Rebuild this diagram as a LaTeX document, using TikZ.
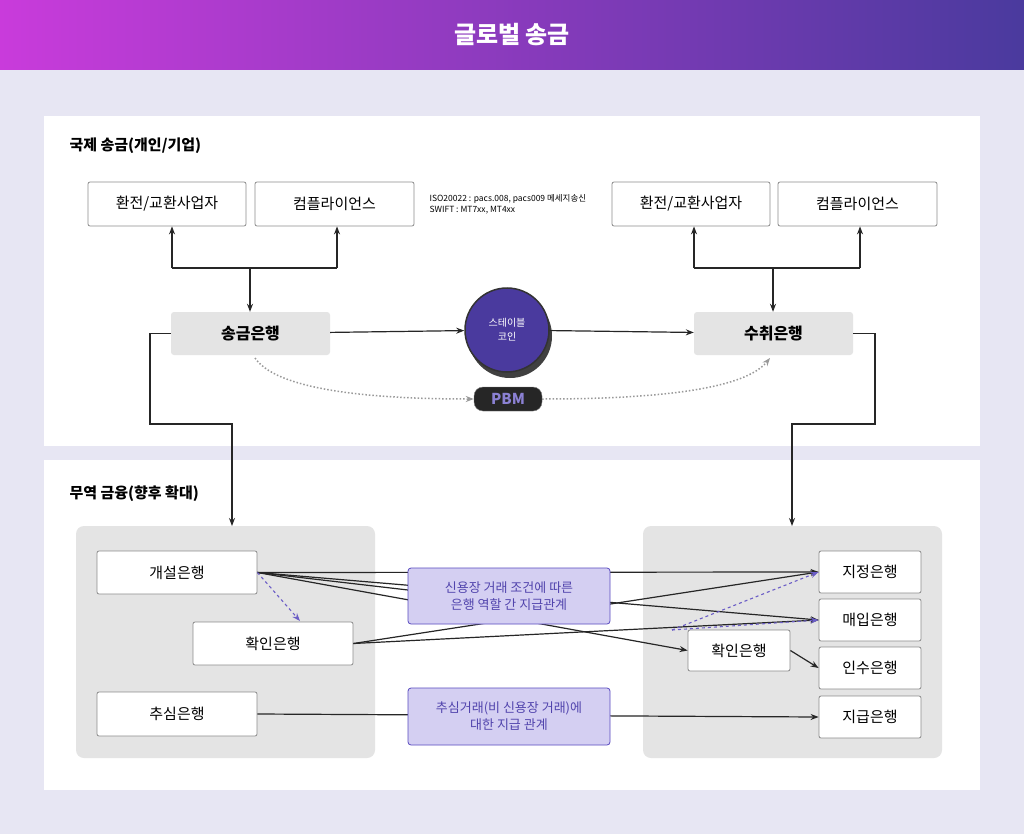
\documentclass[tikz,border=0pt]{standalone}
\usepackage{fontspec}
\setmainfont{Noto Sans CJK KR}
\usetikzlibrary{arrows.meta}
\definecolor{bg}{HTML}{E7E6F3}
\definecolor{gbox}{HTML}{E4E4E4}
\definecolor{lav}{HTML}{D4CFF2}
\definecolor{lavb}{HTML}{5A4BC0}
\definecolor{coin}{HTML}{4A3A9E}
\definecolor{hl}{HTML}{C93BDB}
\definecolor{hr}{HTML}{4A3A9E}
\begin{document}
\begin{tikzpicture}[x=1pt,y=-1pt,
 wbox/.style={draw=black!45,fill=white,rounded corners=2pt,line width=0.8pt,font=\fontsize{15}{18}\selectfont},
 gnode/.style={fill=gbox,rounded corners=3pt,font=\fontsize{16}{19}\selectfont\bfseries},
 lbox/.style={draw=lavb,fill=lav,rounded corners=3pt,line width=0.8pt,align=center,text=lavb!90!black,font=\fontsize{13}{17}\selectfont},
 ar/.style={-{Stealth[length=8pt,width=6pt]},black!85,line width=1.2pt},
 ln/.style={black!85,line width=1.2pt},
 da/.style={-{Stealth[length=8pt,width=6pt]},lavb!90,dashed,line width=1.1pt}]
\useasboundingbox (0,0) rectangle (1024,834);
\fill[bg] (0,0) rectangle (1024,834);
\shade[left color=hl,right color=hr] (0,0) rectangle (1024,70);
\node[text=white,font=\fontsize{24}{28}\selectfont\bfseries] (title) at (512,35) {글로벌 송금};
\fill[white] (44,116) rectangle (980,446);
\fill[white] (44,460) rectangle (980,790);
\fill[gbox,rounded corners=8pt] (76,526) rectangle (375,758);
\fill[gbox,rounded corners=8pt] (643,526) rectangle (942,758);
\node[anchor=west,font=\fontsize{15}{18}\selectfont\bfseries] (t1) at (66,146) {국제 송금(개인/기업)};
\node[anchor=west,font=\fontsize{15}{18}\selectfont\bfseries] (t2) at (66,494) {무역 금융(향후 확대)};
% top
\node[wbox,minimum width=158pt,minimum height=44pt] (a1) at (167,204) {환전/교환사업자};
\node[wbox,minimum width=159pt,minimum height=44pt] (a2) at (334.5,204) {컴플라이언스};
\node[wbox,minimum width=158pt,minimum height=44pt] (b1) at (691,204) {환전/교환사업자};
\node[wbox,minimum width=159pt,minimum height=44pt] (b2) at (857.5,204) {컴플라이언스};
\node[anchor=west,align=left,font=\fontsize{8.5}{11}\selectfont] (iso) at (426,204) {ISO20022 : pacs.008, pacs009 메세지송신\\SWIFT : MT7xx, MT4xx};
\node[gnode,minimum width=159pt,minimum height=43pt] (s) at (250.5,333.5) {송금은행};
\node[gnode,minimum width=159pt,minimum height=43pt] (r) at (773.5,333.5) {수취은행};
\fill[black!75] (510,336) circle (42pt);
\node[circle,draw=black!80,line width=1.5pt,fill=coin,minimum size=84pt,text=white,align=center,font=\fontsize{10}{14}\selectfont] (c) at (507,330) {스테이블\\코인};
\node[fill=black!85,draw=black!50,rounded corners=9pt,minimum width=68pt,minimum height=24pt,text=lavb!70!white,font=\fontsize{15}{18}\selectfont\bfseries] (p) at (508,399) {PBM};
\coordinate (j1) at (250,268); \coordinate (j1l) at (172,268); \coordinate (j1r) at (337,268);
\draw[ln] (j1l) -- (j1r);
\draw[ar] (j1l) -- (a1.south -| j1l);
\draw[ar] (j1r) -- (a2.south -| j1r);
\draw[ar] (j1) -- (s.north -| j1);
\coordinate (j2) at (773,268); \coordinate (j2l) at (694,268); \coordinate (j2r) at (860,268);
\draw[ln] (j2l) -- (j2r);
\draw[ar] (j2l) -- (b1.south -| j2l);
\draw[ar] (j2r) -- (b2.south -| j2r);
\draw[ar] (j2) -- (r.north -| j2);
\draw[ar] (s) -- (c);
\draw[ar] (c) -- (r);
\draw[black!40,dotted,line width=1.5pt,-{Stealth[length=8pt]}] (255,358) .. controls (280,395) and (400,399) .. (p.west);
\draw[black!40,dotted,line width=1.5pt,-{Stealth[length=8pt]}] (p.east) .. controls (620,399) and (740,395) .. (770,358);
\coordinate (g1) at (232,526); \coordinate (g2) at (792,526);
\draw[ar] (s.west) -- (150,333.5) -- (150,424) -- (232,424) -- (g1);
\draw[ar] (r.east) -- (875,333.5) -- (875,424) -- (792,424) -- (g2);
% bottom nodes
\node[wbox,minimum width=160pt,minimum height=43pt] (k) at (177,572.5) {개설은행};
\node[wbox,minimum width=160pt,minimum height=43pt] (h) at (273,643.5) {확인은행};
\node[wbox,minimum width=160pt,minimum height=44pt] (u) at (177,714) {추심은행};
\node[wbox,minimum width=102pt,minimum height=42pt] (d1) at (870,572) {지정은행};
\node[wbox,minimum width=102pt,minimum height=42pt] (d2) at (870,620) {매입은행};
\node[wbox,minimum width=102pt,minimum height=42pt] (d3) at (870,668) {인수은행};
\node[wbox,minimum width=102pt,minimum height=42pt] (d4) at (870,717) {지급은행};
\node[wbox,minimum width=102pt,minimum height=41pt] (h2) at (739,650.5) {확인은행};
% lines
\draw[ar] (k.east) -- (d1.west);
\draw[ar] (k.east) -- (d2.west);
\draw[ar] (k.east) -- (h2.west);
\draw[ln] (k.east) -- (408,590);
\draw[ar] (h.east) -- (d1.west);
\draw[ar] (h.east) -- (d2.west);
\draw[da] (k.east) -- (300,621);
\draw[da] (672,630) -- (d1.west);
\draw[da] (672,630) -- (d2.west);
\draw[ar] (h2.east) -- (d3.west);
\draw[ar] (u.east) -- (d4.west);
\node[lbox,minimum width=202pt,minimum height=56pt] (m1) at (509,596) {신용장 거래 조건에 따른\\은행 역할 간 지급관계};
\node[lbox,minimum width=202pt,minimum height=57pt] (m2) at (509,716.5) {추심거래(비 신용장 거래)에\\대한 지급 관계};
\end{tikzpicture}
\end{document}
